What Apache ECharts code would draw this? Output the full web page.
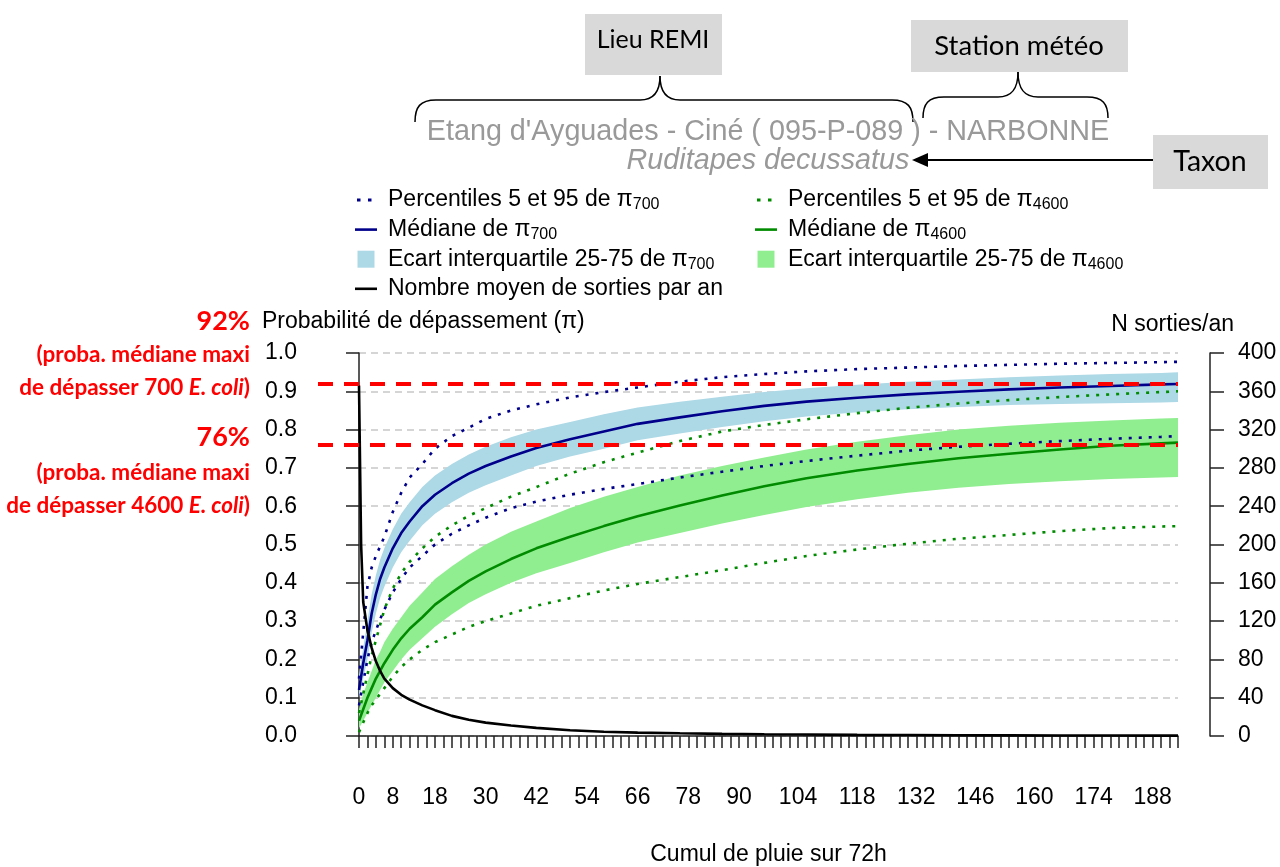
<!DOCTYPE html>
<html><head><meta charset="utf-8">
<script src="https://cdn.jsdelivr.net/npm/echarts@6/dist/echarts.min.js"></script>
<style>html,body{margin:0;padding:0;background:#fff}#c{width:1280px;height:867px}</style>
</head><body><div id="c"></div>
<script>
// ---- data ----
const rain = [0,1,2,3,4,5,6,8,10,12,15,18,22,26,30,36,42,50,58,66,76,86,96,106,118,130,142,154,166,178,190,194];
const med700  = [0.12,0.19,0.25,0.32,0.37,0.41,0.44,0.49,0.53,0.56,0.60,0.63,0.66,0.685,0.705,0.73,0.752,0.775,0.795,0.815,0.832,0.848,0.862,0.873,0.883,0.892,0.899,0.905,0.910,0.914,0.918,0.919];
const q25_700 = [0.10,0.15,0.20,0.27,0.32,0.36,0.39,0.44,0.48,0.51,0.55,0.58,0.61,0.635,0.655,0.68,0.705,0.73,0.75,0.772,0.79,0.807,0.822,0.834,0.845,0.853,0.859,0.864,0.867,0.869,0.871,0.872];
const q75_700 = [0.16,0.23,0.30,0.37,0.42,0.46,0.49,0.54,0.58,0.61,0.65,0.68,0.71,0.735,0.755,0.78,0.80,0.82,0.84,0.858,0.873,0.886,0.898,0.908,0.917,0.925,0.931,0.937,0.941,0.945,0.948,0.95];
const p5_700  = [0.08,0.14,0.20,0.245,0.275,0.305,0.33,0.375,0.41,0.44,0.47,0.50,0.528,0.55,0.57,0.595,0.612,0.63,0.645,0.658,0.675,0.69,0.705,0.718,0.732,0.745,0.755,0.763,0.77,0.776,0.781,0.783];
const p95_700 = [0.15,0.27,0.39,0.44,0.47,0.495,0.52,0.585,0.635,0.675,0.71,0.75,0.783,0.805,0.828,0.85,0.866,0.884,0.898,0.91,0.925,0.937,0.945,0.952,0.958,0.962,0.966,0.969,0.972,0.974,0.976,0.977];
const med4600  = [0.04,0.07,0.10,0.125,0.15,0.17,0.19,0.225,0.255,0.28,0.31,0.343,0.375,0.405,0.43,0.462,0.49,0.52,0.548,0.574,0.602,0.628,0.652,0.673,0.693,0.71,0.725,0.737,0.748,0.758,0.764,0.766];
const q25_4600 = [0.02,0.04,0.06,0.08,0.10,0.12,0.14,0.17,0.20,0.225,0.255,0.285,0.318,0.347,0.37,0.40,0.425,0.452,0.48,0.505,0.53,0.555,0.577,0.598,0.618,0.635,0.648,0.658,0.665,0.671,0.675,0.676];
const q75_4600 = [0.07,0.11,0.14,0.17,0.20,0.22,0.245,0.28,0.31,0.34,0.375,0.41,0.443,0.473,0.50,0.533,0.56,0.595,0.625,0.65,0.68,0.705,0.727,0.748,0.768,0.785,0.80,0.81,0.818,0.824,0.829,0.83];
const p5_4600  = [0.01,0.035,0.06,0.08,0.095,0.11,0.125,0.155,0.18,0.20,0.225,0.245,0.265,0.285,0.30,0.32,0.34,0.36,0.38,0.397,0.415,0.433,0.452,0.47,0.487,0.502,0.515,0.525,0.535,0.543,0.547,0.548];
const p95_4600 = [0.06,0.11,0.16,0.21,0.25,0.29,0.33,0.385,0.425,0.455,0.49,0.52,0.55,0.575,0.595,0.625,0.65,0.685,0.715,0.74,0.77,0.795,0.812,0.827,0.843,0.857,0.868,0.877,0.885,0.892,0.898,0.90];
const rainSorties = [0,0.2,0.5,1,2,3,4,5,6,8,10,12,15,18,22,26,30,36,42,50,58,66,76,86,96,106,118,130,142,154,166,178,190,194];
const sorties = [366,300,200,140,110,92,78,68,60,50,43,38,32,27,21,17,14,11,8.5,6,4.5,3.5,2.8,2.2,1.8,1.5,1.2,1.0,0.8,0.7,0.6,0.5,0.4,0.4];
const refLevels = [0.92, 0.76];
const xTickLabels = [0,8,18,30,42,54,66,78,90,104,118,132,146,160,174,188];
const xMax = 194;

// ---- names ----
const N_P700 = 'Percentiles 5 et 95 de π700';
const N_M700 = 'Médiane de π700';
const N_B700 = 'Ecart interquartile 25-75 de π700';
const N_BLK  = 'Nombre moyen de sorties par an';
const N_P4600 = 'Percentiles 5 et 95 de π4600';
const N_M4600 = 'Médiane de π4600';
const N_B4600 = 'Ecart interquartile 25-75 de π4600';

const NAVY = '#00008B', GREEN = '#008B00', LBLUE = '#ADD8E6', LGREEN = '#90EE90';
const AR = 'Liberation Sans, Arial, sans-serif';
const CAL = 'Lato, sans-serif';

const pairs = (xs, ys) => xs.map((x, i) => [x, ys[i]]);

function dotted(name, ys, color) {
  return {name, type:'line', data: pairs(rain, ys), symbol:'none', silent:true,
    lineStyle:{color, width:2.6, type:[3,7], cap:'butt'}, itemStyle:{color}};
}
function solid(name, ys, color) {
  return {name, type:'line', data: pairs(rain, ys), symbol:'none', silent:true,
    lineStyle:{color, width:2.6}, itemStyle:{color}};
}
function band(name, lo, hi, color) {
  return {name, type:'custom', silent:true, itemStyle:{color},
    data: rain.map((x, i) => [x, lo[i], hi[i]]),
    encode: {x: 0, y: [1, 2]},
    renderItem: (params, api) => {
      if (params.dataIndex !== 0) return null;
      const top = rain.map((x, i) => api.coord([x, hi[i]]));
      const bot = rain.map((x, i) => api.coord([x, lo[i]])).reverse();
      return {type:'polygon', shape:{points: top.concat(bot)}, style:{fill: color}};
    }};
}

const legendText = {
  fontFamily: AR, fontSize: 23, color: '#000', lineHeight: 26, padding: [0,0,0,6],
  rich: {
    pi: {fontFamily: AR, fontSize: 23, color:'#000', lineHeight: 26},
    sub: {fontFamily: AR, fontSize: 16, color:'#000', lineHeight: 14, verticalAlign: 'bottom'}
  }
};
const legendFmt = name => name.replace(/π(\d+)/, '{pi|π}{sub|$1}');
const SQ = 'path://M0,0L17,0L17,17L0,17Z';
const DOTS = 'path://M2,0H5.5V3H2Z M13,0H16.5V3H13Z M0,0H0.01V0.01H0Z M22,0H22.01V0.01H22Z';
const SOLID = 'path://M0,0H22V2.6H0Z';

const redRich = {
  a: {fontFamily: CAL, fontWeight: 'bold', fontSize: 22.5, fill: '#FF0000'},
  i: {fontFamily: CAL, fontWeight: 'bold', fontStyle: 'italic', fontSize: 22.5, fill: '#FF0000'}
};
function redLine(txt, y) {
  return {type:'text', x:250, y, style:{text: txt, rich: redRich, align:'right', verticalAlign:'middle'}};
}
function boxText(txt, x, y, fs) {
  return {type:'text', x, y, style:{text: txt, fontFamily: CAL, fontSize: fs, fill:'#000', align:'center', verticalAlign:'middle'}};
}
const ST = {fill:'none', stroke:'#000', lineWidth:1.5};
function brace(x0, x1, xc, yEnd, yH, yTop) {
  const r = 21, c = 20;
  return [
    {type:'bezierCurve', shape:{x1:x0, y1:yEnd, cpx1:x0, cpy1:yH+7, cpx2:x0+5, cpy2:yH, x2:x0+r, y2:yH}, style:ST},
    {type:'line', shape:{x1:x0+r, y1:yH, x2:xc-c, y2:yH}, style:ST},
    {type:'bezierCurve', shape:{x1:xc-c, y1:yH, cpx1:xc-7, cpy1:yH, cpx2:xc, cpy2:yH-7, x2:xc, y2:yTop}, style:ST},
    {type:'bezierCurve', shape:{x1:xc, y1:yTop, cpx1:xc, cpy1:yH-7, cpx2:xc+7, cpy2:yH, x2:xc+c, y2:yH}, style:ST},
    {type:'line', shape:{x1:xc+c, y1:yH, x2:x1-r, y2:yH}, style:ST},
    {type:'bezierCurve', shape:{x1:x1-r, y1:yH, cpx1:x1-5, cpy1:yH, cpx2:x1, cpy2:yH+7, x2:x1, y2:yEnd}, style:ST}
  ];
}
const legBase = {orient: 'vertical', top: 182, itemGap: 3.6, itemWidth: 22, itemHeight: 17,
  selectedMode: false, textStyle: legendText, formatter: legendFmt};

const chart = echarts.init(document.getElementById('c'), null, {renderer:'canvas'});
chart.setOption({
  animation: false,
  backgroundColor: '#fff',
  grid: {left: 359, right: 102, top: 353, bottom: 131, containLabel: false},
  xAxis: {
    type: 'value', min: 0, max: xMax, interval: 2, offset: 14,
    name: 'Cumul de pluie sur 72h', nameLocation: 'middle', nameGap: 93,
    nameTextStyle: {fontFamily: AR, fontSize: 23, color: '#000'},
    axisLine: {show: true, lineStyle: {color: '#222', width: 1.5}},
    axisTick: {show: true, length: 12, lineStyle: {color: '#222', width: 1.5}},
    axisLabel: {margin: 36, fontFamily: AR, fontSize: 23, color: '#000',
      formatter: v => xTickLabels.indexOf(v) >= 0 ? String(v) : ''},
    splitLine: {show: false}
  },
  yAxis: [
    {type: 'value', min: 0, max: 1, interval: 0.1, position: 'left', offset: 33,
      axisLine: {show: true, lineStyle: {color: '#222', width: 1.5}},
      axisTick: {show: true, length: 13, lineStyle: {color: '#222', width: 1.5}},
      axisLabel: {margin: 29, fontFamily: AR, fontSize: 23, color: '#000', formatter: v => v.toFixed(1)},
      splitLine: {show: true, lineStyle: {color: '#C8C8C8', width: 1.5, type: [7,5]}}
    },
    {type: 'value', min: 0, max: 400, interval: 40, position: 'right', offset: 32,
      axisLine: {show: true, lineStyle: {color: '#222', width: 1.5}},
      axisTick: {show: true, length: 14, lineStyle: {color: '#222', width: 1.5}},
      axisLabel: {margin: 28, fontFamily: AR, fontSize: 23, color: '#000'},
      splitLine: {show: false}
    }
  ],
  legend: [
    Object.assign({left: 350, data: [
      {name: N_P700, icon: DOTS, itemStyle: {color: NAVY, borderWidth: 0}},
      {name: N_M700, icon: SOLID, itemStyle: {color: NAVY, borderWidth: 0}},
      {name: N_B700, icon: SQ, itemStyle: {color: LBLUE, borderWidth: 0}},
      {name: N_BLK, icon: SOLID, itemStyle: {color: '#000', borderWidth: 0}}]}, legBase),
    Object.assign({left: 750, data: [
      {name: N_P4600, icon: DOTS, itemStyle: {color: GREEN, borderWidth: 0}},
      {name: N_M4600, icon: SOLID, itemStyle: {color: GREEN, borderWidth: 0}},
      {name: N_B4600, icon: SQ, itemStyle: {color: LGREEN, borderWidth: 0}}]}, legBase)
  ],
  series: [
    band(N_B700, q25_700, q75_700, LBLUE),
    band(N_B4600, q25_4600, q75_4600, LGREEN),
    dotted(N_P700, p5_700, NAVY),
    dotted(N_P700, p95_700, NAVY),
    dotted(N_P4600, p5_4600, GREEN),
    dotted(N_P4600, p95_4600, GREEN),
    solid(N_M700, med700, NAVY),
    solid(N_M4600, med4600, GREEN),
    {name: N_BLK, type: 'line', yAxisIndex: 1, data: pairs(rainSorties, sorties), symbol: 'none', silent: true,
      z: 3, lineStyle: {color: '#000', width: 2.6}, itemStyle: {color: '#000'}},
    {name: '_ref', type: 'line', data: [], clip: false, z: 10, silent: true,
      markLine: {silent: true, symbol: 'none', z: 10, label: {show: false},
        lineStyle: {color: '#FF0000', width: 4, type: [15,11]},
        data: refLevels.map(v => [{coord: [0, v], x: 318}, {coord: [xMax, v]}])}}
  ],
  graphic: [
    {type:'rect', shape:{x:585, y:14, width:137, height:61}, style:{fill:'#D9D9D9'}},
    boxText('Lieu REMI', 653, 40, 25),
    {type:'rect', shape:{x:911, y:20, width:217, height:52}, style:{fill:'#D9D9D9'}},
    boxText('Station météo', 1019, 46, 27.5),
    {type:'rect', shape:{x:1153, y:135, width:115, height:54}, style:{fill:'#D9D9D9'}},
    boxText('Taxon', 1210, 162, 28.5),
    ...brace(415, 913, 660, 122, 100, 76),
    ...brace(923, 1108, 1018, 118, 97, 72),
    {type:'line', shape:{x1:1153, y1:160, x2:926, y2:160}, style:{stroke:'#000', lineWidth:1.8}},
    {type:'polygon', shape:{points:[[912,160],[928,153],[928,167]]}, style:{fill:'#000'}},
    {type:'text', x:768, y:132, style:{text:"Etang d'Ayguades - Ciné ( 095-P-089 ) - NARBONNE", fontFamily: AR, fontSize: 28.75, fill:'#999999', align:'center', verticalAlign:'middle'}},
    {type:'text', x:768, y:161, style:{text:'Ruditapes decussatus', fontFamily: AR, fontStyle:'italic', fontSize: 28.75, fill:'#999999', align:'center', verticalAlign:'middle'}},
    {type:'text', x:262, y:322, style:{text:'Probabilité de dépassement (π)', fontFamily: AR, fontSize: 23, fill:'#000', align:'left', verticalAlign:'middle'}},
    {type:'text', x:1234, y:325, style:{text:'N sorties/an', fontFamily: AR, fontSize: 23, fill:'#000', align:'right', verticalAlign:'middle'}},
    {type:'text', x:250, y:321, style:{text:'92%', fontFamily: CAL, fontWeight:'bold', fontSize: 27, fill:'#FF0000', align:'right', verticalAlign:'middle'}},
    redLine('{a|(proba. médiane maxi}', 355),
    redLine('{a|de dépasser 700 }{i|E. coli}{a|)}', 388),
    {type:'text', x:250, y:437, style:{text:'76%', fontFamily: CAL, fontWeight:'bold', fontSize: 27, fill:'#FF0000', align:'right', verticalAlign:'middle'}},
    redLine('{a|(proba. médiane maxi}', 473),
    redLine('{a|de dépasser 4600 }{i|E. coli}{a|)}', 506)
  ]
});
</script></body></html>
